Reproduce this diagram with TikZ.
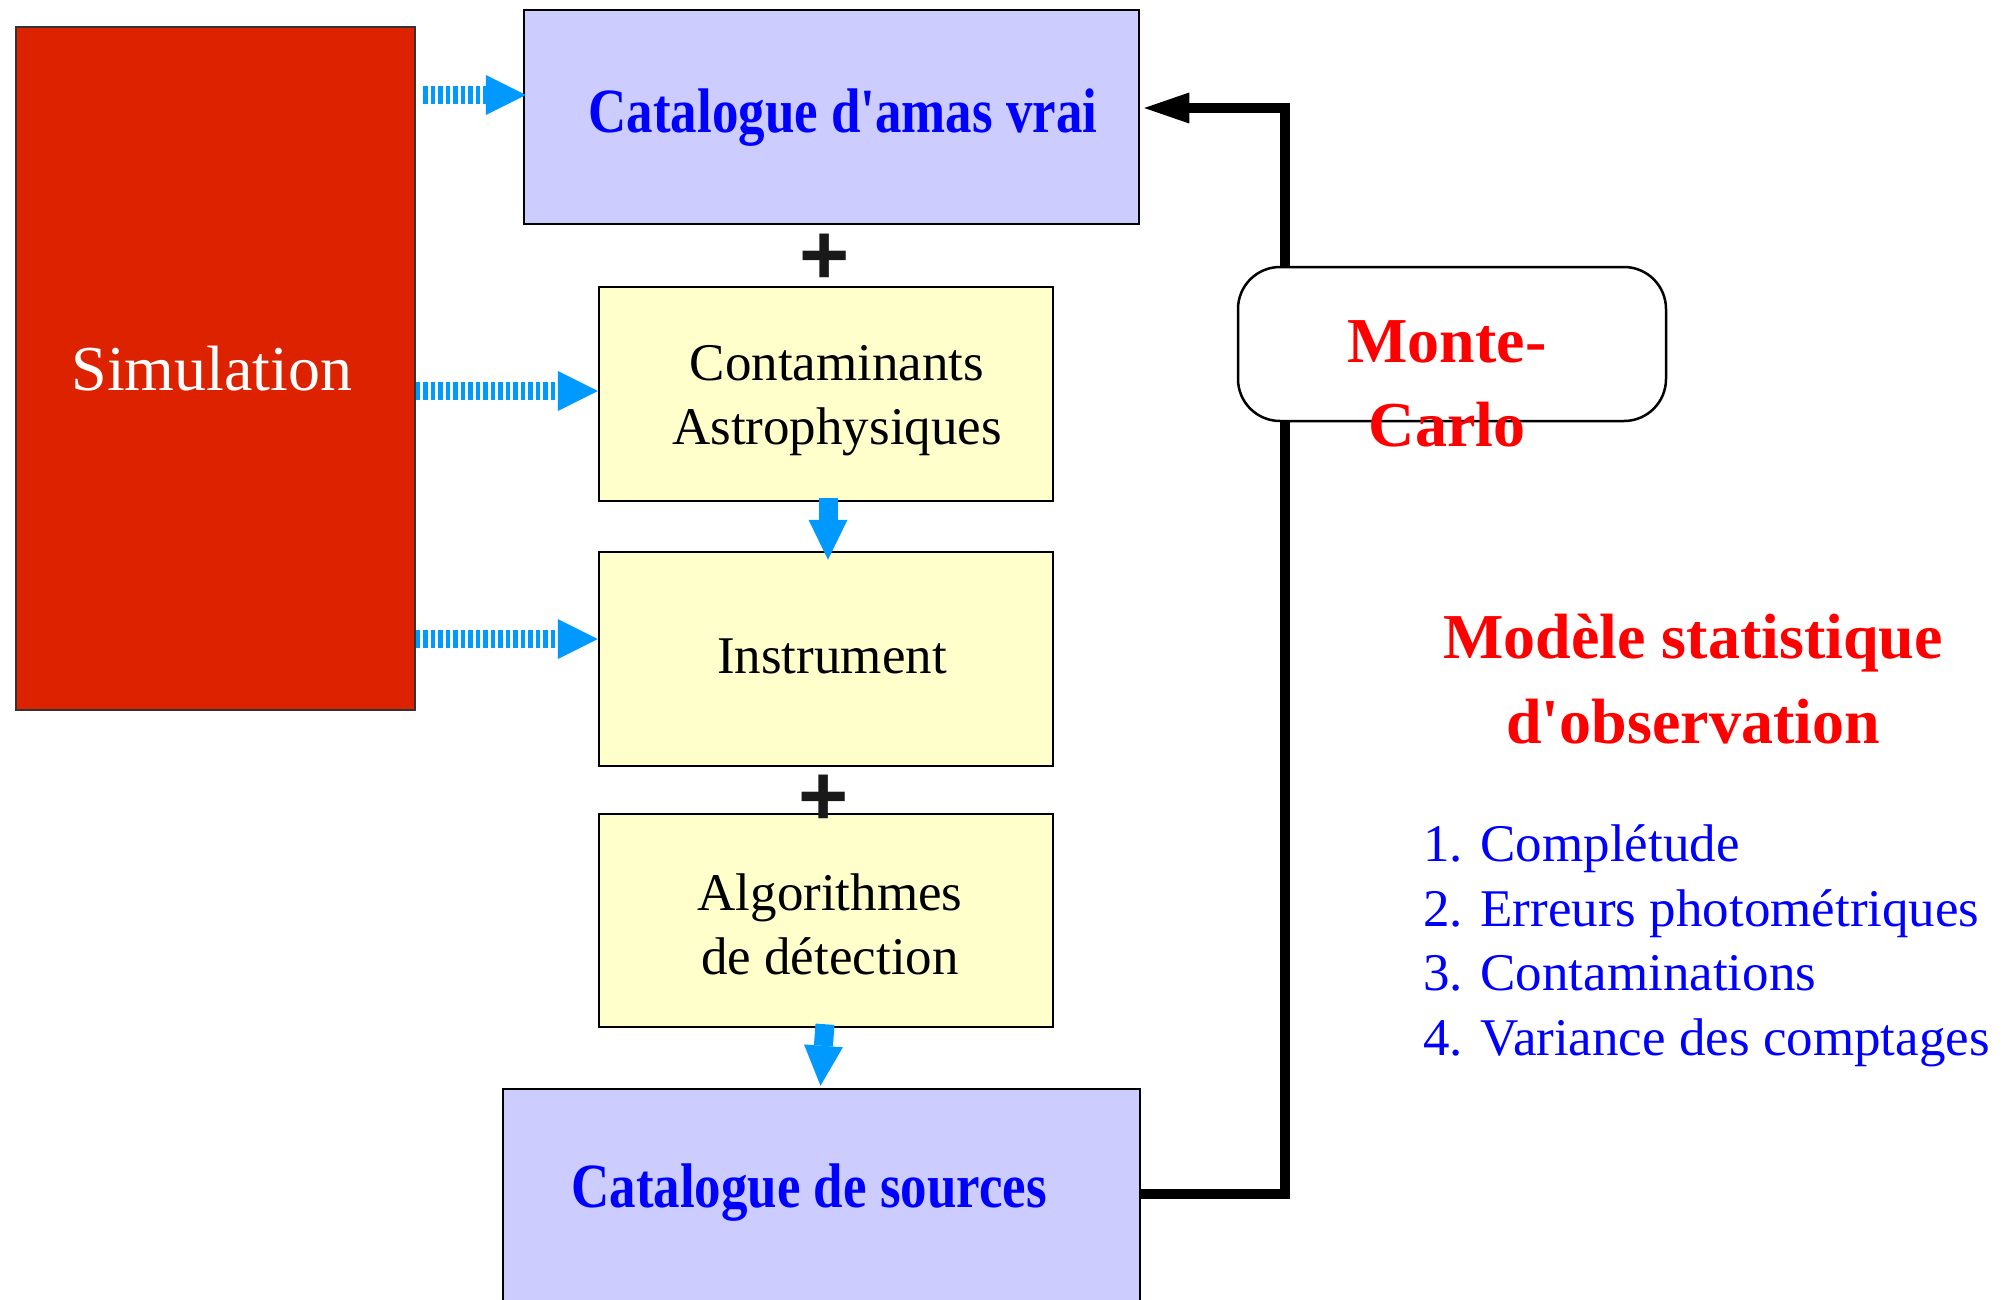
\documentclass[tikz,border=0pt]{standalone}
\usepackage{fontspec}
\newfontfamily\serif{Liberation Serif}
\newfontfamily\catfont{Liberation Serif}[FakeStretch=0.84]
\newfontfamily\plusfont{Liberation Sans}
\usetikzlibrary{arrows.meta}
\definecolor{simred}{HTML}{DD2200}
\definecolor{lav}{HTML}{CCCCFF}
\definecolor{pale}{HTML}{FFFFCC}
\definecolor{arrowblue}{HTML}{0099FF}
\definecolor{tblue}{HTML}{0000FF}
\definecolor{tred}{HTML}{FF0000}
\begin{document}
\begin{tikzpicture}[x=1pt,y=-1pt,
  box/.style={draw=black, line width=2.5pt, inner sep=0pt, rectangle},
  regtext/.style={font={\serif\fontsize{53}{64}\selectfont}, inner sep=0pt, text=black},
  cattext/.style={font={\catfont\bfseries\fontsize{63}{76}\selectfont}, inner sep=0pt, text=tblue},
  redtext/.style={font={\serif\bfseries\fontsize{64}{84}\selectfont}, inner sep=0pt, text=tred, align=center},
  plussign/.style={font={\plusfont\bfseries\fontsize{86}{90}\selectfont}, inner sep=0pt, text=black!90, anchor=base},
  downarrow/.style={draw=arrowblue, line width=19pt, -{Triangle[length=40pt 0 0,width=39pt 0 0,line width=0pt 0 0]}},
  dotarrow/.style={draw=arrowblue, line width=18pt, dash pattern=on 4.7pt off 2.8pt, -{Triangle[length=40pt 0 0,width=40pt 0 0,line width=0pt 0 0]}},
  fbline/.style={draw=black, line width=10pt, -{Triangle[length=45pt 0 0,width=31pt 0 0,line width=0pt 0 0]}}
]
\useasboundingbox (0,0) rectangle (2016,1300);
\clip (0,0) rectangle (2016,1300);
\fill[white] (0,0) rectangle (2016,1300);

% boxes
\node[box, fill=simred, draw=black!80, line width=1.5pt, minimum width=399pt, minimum height=683pt] (sim) at (215.5,368.5) {};
\node[box, fill=lav, minimum width=615pt, minimum height=214pt] (cat1) at (831.5,117) {};
\node[box, fill=pale, minimum width=454pt, minimum height=214pt] (cont) at (826,394) {};
\node[box, fill=pale, minimum width=454pt, minimum height=214pt] (inst) at (826,659) {};
\node[box, fill=pale, minimum width=454pt, minimum height=213pt] (algo) at (826,920.5) {};
\node[box, fill=lav, minimum width=637pt, minimum height=241pt] (srcs) at (821.5,1209.5) {};

% feedback loop
\coordinate (fbb) at (1285,1194);
\coordinate (fbt) at (1285,108);
\draw[fbline] (srcs.east |- fbb) -- (fbb) -- (fbt) -- ([xshift=4pt]cat1.east |- fbt);

\node[draw=black, line width=2.5pt, fill=white, rounded corners=42pt, minimum width=428pt, minimum height=154pt, inner sep=0pt] (mc) at (1452,344) {};

% dotted arrows from simulation
\coordinate (a1s) at (423,95);
\draw[dotarrow] (a1s) -- ([xshift=3pt]cat1.west |- a1s);
\draw[dotarrow] (sim.east |- 0,391) -- (cont.west |- 0,391);
\draw[dotarrow] (sim.east |- 0,639) -- (inst.west |- 0,639);

% down arrows
\draw[downarrow] ([xshift=2pt,yshift=4pt]cont.south) -- ([xshift=2pt,yshift=-9pt]inst.north);
\draw[downarrow] ([xshift=-1pt,yshift=4pt]algo.south) -- ([xshift=-1pt,yshift=2pt]srcs.north);

% texts
\node[regtext, text=white, font={\serif\fontsize{64}{76}\selectfont}, anchor=base] (simt) at (212,390) {Simulation};
\node[cattext, anchor=base] (cat1t) at (843,133) {Catalogue d'amas vrai};
\node[regtext, align=center] (contt) at (837,401) {Contaminants\\Astrophysiques};
\node[regtext, anchor=base] (instt) at (832,673.5) {Instrument};
\node[regtext, align=center] (algot) at (830,924.5) {Algorithmes\\de détection};
\node[cattext, anchor=base] (srcst) at (809,1207) {Catalogue de sources};
\node[plussign] (p1) at (825,284) {+};
\node[plussign] (p2) at (824,825) {+};
\node[redtext] (mct) at (1447,384) {Monte-\\Carlo};
\node[redtext, font={\serif\bfseries\fontsize{64}{85}\selectfont}] (modt) at (1693,679) {Modèle statistique\\d'observation};
\node[regtext, text=tblue, align=left, anchor=west, font={\serif\fontsize{53}{64.5}\selectfont}] (list) at (1423,946) {1. Complétude\\2. Erreurs photométriques\\3. Contaminations\\4. Variance des comptages};
\end{tikzpicture}
\end{document}
